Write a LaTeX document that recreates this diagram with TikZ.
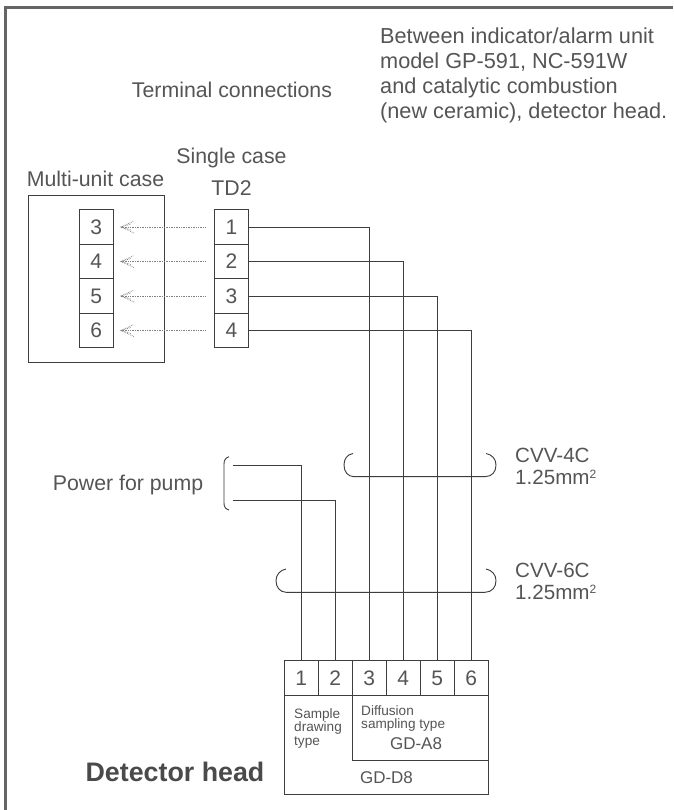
\documentclass[tikz,border=0pt]{standalone}
\usepackage{fontspec}
\setmainfont{Liberation Sans}
\definecolor{ink}{HTML}{3E3E3E}
\definecolor{bold}{HTML}{4A4A4A}
\definecolor{txt}{HTML}{555555}
\newcommand{\sqsup}{\raisebox{0.55ex}{\fontsize{12}{12}\selectfont 2}}
\tikzset{
  x=1pt,y=-1pt,
  wire/.style={draw=ink,line width=0.92pt},
  frameline/.style={draw=bold!85,line width=2.2pt},
  cell/.style={draw=ink,line width=0.92pt,minimum width=34.3pt,minimum height=34.5pt,inner sep=0pt,text=txt,font=\fontsize{21}{21}\selectfont},
  lab/.style={text=txt,font=\fontsize{21.3}{25}\selectfont,inner sep=0pt},
  small/.style={text=txt,font=\fontsize{13.6}{13.6}\selectfont,inner sep=0pt,align=left},
  dots/.style={draw=bold!70,line width=0.7pt,densely dotted},
}
\begin{document}
\begin{tikzpicture}
\useasboundingbox[fill=white] (0,0) rectangle (673,810);
\draw[frameline] (5.5,810) -- (5.5,7.5) -- (673,7.5);
% headings
\node[lab,align=left,anchor=north west,font=\fontsize{21.7}{25}\selectfont] (head) at (380,27.5) {Between indicator/alarm unit\\model GP-591, NC-591W\\and catalytic combustion\\(new ceramic), detector head.};
\node[lab] (term) at (232,90) {Terminal connections};
\node[lab] (single) at (231.5,158) {Single case};
\node[lab] (td) at (231.5,188) {TD2};
\node[lab] (multi) at (95.5,179) {Multi-unit case};
% multi case
\node[draw=ink,line width=0.92pt,minimum width=136pt,minimum height=167pt,inner sep=0pt,anchor=north west] (mcase) at (28,195) {};
\foreach \i [count=\k] in {3,4,5,6}{
  \node[cell] (m\k) at (96.3,{227+(\k-1)*34.5}) {\i};
}
\foreach \k in {1,2,3,4}{
  \node[cell] (s\k) at (231.5,{227+(\k-1)*34.5}) {\k};
  \coordinate (ds\k) at ([xshift=-8.5pt]s\k.west);
  \coordinate (dm\k) at ([xshift=7pt]m\k.east);
  \draw[dots] (ds\k) -- (dm\k);
  \draw[dots] ([xshift=13pt,yshift=-6pt]dm\k) -- (dm\k) -- ([xshift=13pt,yshift=6pt]dm\k);
  \draw[dots] ([xshift=10pt,yshift=-3pt]dm\k) -- (dm\k) -- ([xshift=10pt,yshift=3pt]dm\k);
}
% detector cells
\foreach \k in {1,...,6}{
  \node[cell,minimum width=34pt] (d\k) at ({301.3+(\k-1)*34},678) {\k};
}
\node[draw=ink,line width=0.92pt,minimum width=204pt,minimum height=99pt,inner sep=0pt,anchor=north west] (dbox) at (284.3,695.3) {};
\node[draw=ink,line width=0.92pt,minimum width=136pt,minimum height=65pt,inner sep=0pt,anchor=north west] (abox) at (352.3,695.3) {};
\node[small,anchor=north west] (tsd) at (294,708) {Sample\\drawing\\type};
\node[small,anchor=north west] (tdf) at (361,705) {Diffusion\\sampling type};
\node[text=txt,font=\fontsize{17}{17}\selectfont,inner sep=0pt] (ga) at (416,744) {GD-A8};
\node[text=txt,font=\fontsize{17}{17}\selectfont,inner sep=0pt] (gd) at (386.5,778) {GD-D8};
\node[text=bold,font=\bfseries\fontsize{26.8}{28}\selectfont,inner sep=0pt] (dh) at (175,772) {Detector head};
% wires
\draw[wire] (s1.east) -| (d3.north);
\draw[wire] (s2.east) -| (d4.north);
\draw[wire] (s3.east) -| (d5.north);
\draw[wire] (s4.east) -| (d6.north);
% pump
\node[lab] (pump) at (128,485) {Power for pump};
\coordinate (p1) at (232.7,465.7);
\coordinate (p2) at (232.7,500.3);
\draw[wire] (p1) -| (d1.north);
\draw[wire] (p2) -| (d2.north);
\draw[draw=ink,line width=0.9pt] (229,456.7) .. controls (225.5,458) and (224,460) .. (224,464) -- (224,503) .. controls (224,507) and (225.5,509) .. (229,510);
% cable brackets
\node[lab,align=left,anchor=west,font=\fontsize{20.6}{22}\selectfont] (c4) at (515,466) {CVV-4C\\1.25mm\sqsup};
\node[lab,align=left,anchor=west,font=\fontsize{20.6}{22}\selectfont] (c6) at (515,581) {CVV-6C\\1.25mm\sqsup};
\coordinate (b4l) at (353,453.5);
\coordinate (b4r) at (486,453.5);
\draw[wire] (b4l) .. controls (347,454.5) and (344,459) .. (344,465) .. controls (344,472) and (348,476.5) .. (354,476.7) -- (485,476.7) .. controls (492,476.5) and (496,472) .. (496,465) .. controls (496,459) and (492,454.5) .. (b4r);
\coordinate (b6l) at (286,569);
\coordinate (b6r) at (486,569);
\draw[wire] (b6l) .. controls (280,570) and (276,575) .. (276,580.5) .. controls (276,587.5) and (280,592) .. (286,592.3) -- (485,592.3) .. controls (492,592) and (496,587.5) .. (496,580.5) .. controls (496,575) and (492,570) .. (b6r);
\end{tikzpicture}
\end{document}
